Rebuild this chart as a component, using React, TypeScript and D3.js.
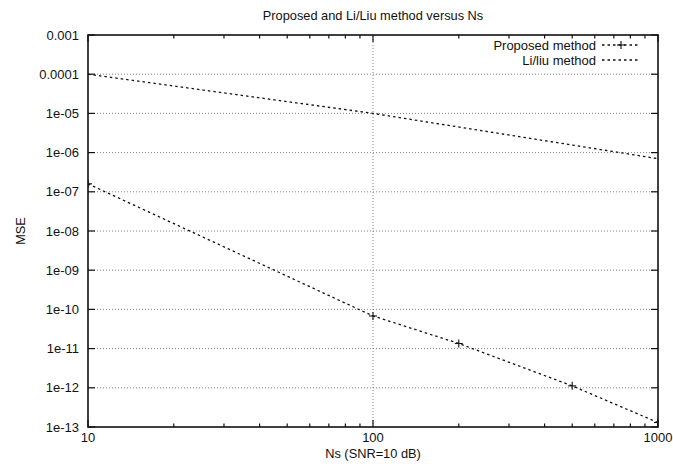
import React from "react";
import * as d3 from "d3";

// MSE versus number of samples Ns, at SNR = 10 dB
const proposedNs = [10, 100, 200, 500, 1000];
const proposedMse = [1.6e-7, 6.8e-11, 1.35e-11, 1.12e-12, 1.3e-13];

const liLiuNs = [10, 100, 1000];
const liLiuMse = [1e-4, 1e-5, 7e-7];

const xTickValues = [10, 100, 1000];
const yTickValues = [1e-3, 1e-4, 1e-5, 1e-6, 1e-7, 1e-8, 1e-9, 1e-10, 1e-11, 1e-12, 1e-13];
const yTickLabels = ["0.001", "0.0001", "1e-05", "1e-06", "1e-07", "1e-08", "1e-09", "1e-10", "1e-11", "1e-12", "1e-13"];

const titleText = "Proposed and Li/Liu method versus Ns";
const xLabel = "Ns (SNR=10 dB)";
const yLabel = "MSE";
const legendNames = ["Proposed method", "Li/liu method"];

const W = 673;
const H = 468;
const m = { left: 88, right: 15, top: 35, bottom: 41 };
const font = "'Liberation Sans', Arial, Helvetica, sans-serif";

export default function App() {
  const x = d3.scaleLog().domain([10, 1000]).range([m.left, W - m.right]);
  const y = d3.scaleLog().domain([1e-13, 1e-3]).range([H - m.bottom, m.top]);
  const [x0, x1] = x.range();
  const [y0, y1] = y.range();

  const line = d3
    .line<[number, number]>()
    .x((d) => x(d[0]))
    .y((d) => y(d[1]));

  const proposed: [number, number][] = proposedNs.map((n, i) => [n, proposedMse[i]]);
  const liLiu: [number, number][] = liLiuNs.map((n, i) => [n, liLiuMse[i]]);

  const minorX: number[] = [];
  for (const dec of [10, 100]) for (let k = 2; k <= 9; k++) minorX.push(dec * k);

  const lineStyle = { fill: "none", stroke: "#111", strokeWidth: 1.3, strokeDasharray: "2.5,3" };
  const mark = (cx: number, cy: number, key: string) => (
    <g key={key} stroke="#111" strokeWidth={1.1}>
      <line x1={cx - 4} x2={cx + 4} y1={cy} y2={cy} />
      <line x1={cx} x2={cx} y1={cy - 4} y2={cy + 4} />
    </g>
  );

  return (
    <svg width={W} height={H} style={{ position: "absolute", left: 0, top: 0, background: "#fff" }} fontFamily={font}>
      <rect x={0} y={0} width={W} height={H} fill="#fff" />
      <defs>
        <clipPath id="plotClip">
          <rect x={x0} y={y1} width={x1 - x0} height={y0 - y1} />
        </clipPath>
      </defs>

      {/* grid */}
      <g stroke="#777" strokeWidth={0.9} strokeDasharray="1,2">
        {yTickValues.slice(1, -1).map((v) => (
          <line key={"gy" + v} x1={x0} x2={x1} y1={y(v)} y2={y(v)} />
        ))}
        <line x1={x(100)} x2={x(100)} y1={y0} y2={y1} />
      </g>

      {/* ticks */}
      <g stroke="#111" strokeWidth={1.2}>
        {yTickValues.map((v) => (
          <g key={"ty" + v}>
            <line x1={x0} x2={x0 + 7} y1={y(v)} y2={y(v)} />
            <line x1={x1} x2={x1 - 7} y1={y(v)} y2={y(v)} />
          </g>
        ))}
        {xTickValues.map((v) => (
          <g key={"tx" + v}>
            <line x1={x(v)} x2={x(v)} y1={y0} y2={y0 - 7} />
            <line x1={x(v)} x2={x(v)} y1={y1} y2={y1 + 7} />
          </g>
        ))}
        {minorX.map((v) => (
          <g key={"mx" + v}>
            <line x1={x(v)} x2={x(v)} y1={y0} y2={y0 - 3.5} />
            <line x1={x(v)} x2={x(v)} y1={y1} y2={y1 + 3.5} />
          </g>
        ))}
      </g>

      {/* series */}
      <g clipPath="url(#plotClip)">
        <path d={line(liLiu) ?? ""} style={lineStyle} />
        <path d={line(proposed) ?? ""} style={lineStyle} />
        {proposed.map((d, i) => mark(x(d[0]), y(d[1]), "p" + i))}
      </g>

      {/* frame */}
      <rect x={x0} y={y1} width={x1 - x0} height={y0 - y1} fill="none" stroke="#111" strokeWidth={1.6} />

      {/* tick labels */}
      <g fontSize={13} fill="#111">
        {yTickValues.map((v, i) => (
          <text key={"ly" + v} x={x0 - 9} y={y(v)} textAnchor="end" dominantBaseline="central">
            {yTickLabels[i]}
          </text>
        ))}
        {xTickValues.map((v) => (
          <text key={"lx" + v} x={x(v)} y={y0 + 15} textAnchor="middle">
            {String(v)}
          </text>
        ))}
      </g>

      {/* titles */}
      <text x={(x0 + x1) / 2} y={20} textAnchor="middle" fontSize={12.8} fill="#111">
        {titleText}
      </text>
      <text x={(x0 + x1) / 2} y={458} textAnchor="middle" fontSize={12.8} fill="#111">
        {xLabel}
      </text>
      <text
        transform={`translate(25, ${(y0 + y1) / 2}) rotate(-90)`}
        textAnchor="middle"
        fontSize={12.8}
        fill="#111"
      >
        {yLabel}
      </text>

      {/* legend */}
      <g fontSize={13} fill="#111">
        <text x={596} y={45} textAnchor="end" dominantBaseline="central">{legendNames[0]}</text>
        <line x1={602} x2={640} y1={45} y2={45} style={lineStyle} />
        {mark(621, 45, "legmark")}
        <text x={596} y={60} textAnchor="end" dominantBaseline="central">{legendNames[1]}</text>
        <line x1={602} x2={640} y1={60} y2={60} style={lineStyle} />
      </g>
    </svg>
  );
}
